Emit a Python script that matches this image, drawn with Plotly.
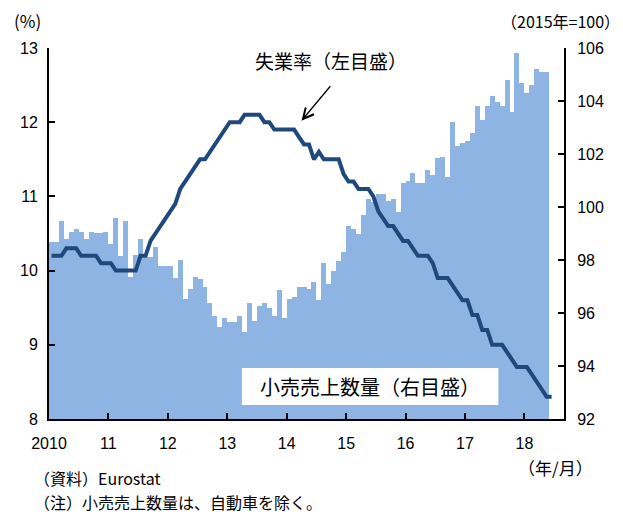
import numpy as np
import plotly.graph_objects as go

# monthly data, 2010/01 onwards
unemployment = [
    10.2, 10.2, 10.2, 10.3, 10.3, 10.3, 10.2, 10.2, 10.2, 10.2, 10.1, 10.1,
    10.1, 10.0, 10.0, 10.0, 10.0, 10.0, 10.2, 10.2, 10.4, 10.5, 10.6, 10.7,
    10.8, 10.9, 11.1, 11.2, 11.3, 11.4, 11.5, 11.5, 11.6, 11.7, 11.8, 11.9,
    12.0, 12.0, 12.0, 12.1, 12.1, 12.1, 12.1, 12.0, 12.0, 11.9, 11.9, 11.9,
    11.9, 11.9, 11.8, 11.7, 11.7, 11.5, 11.6, 11.5, 11.5, 11.5, 11.5, 11.3,
    11.2, 11.2, 11.1, 11.1, 11.1, 11.0, 10.8, 10.7, 10.6, 10.6, 10.5, 10.4,
    10.4, 10.3, 10.2, 10.2, 10.2, 10.1, 9.9, 9.9, 9.9, 9.8, 9.7, 9.6,
    9.6, 9.4, 9.4, 9.2, 9.2, 9.0, 9.0, 9.0, 8.9, 8.8, 8.7, 8.7,
    8.7, 8.6, 8.5, 8.4, 8.3, 8.3,
]

retail = [
    98.69, 98.69, 99.47, 98.78, 99.07, 99.16, 99.07, 98.78, 99.07, 99.01, 99.01, 99.07,
    98.59, 99.57, 98.15, 99.47, 97.37, 98.19, 98.78, 98.13, 98.13, 98.48, 97.77, 97.77,
    97.77, 97.31, 98.00, 96.52, 96.89, 97.37, 97.28, 96.97, 96.37, 95.89, 95.48, 95.80,
    95.67, 95.67, 95.89, 95.29, 96.37, 95.70, 96.26, 96.37, 96.18, 95.89, 96.87, 95.80,
    96.52, 96.60, 96.97, 96.97, 96.89, 97.18, 96.50, 97.89, 97.08, 97.60, 97.97, 98.30,
    99.28, 99.16, 99.00, 99.70, 100.29, 100.20, 100.49, 100.49, 100.22, 100.29, 99.82, 100.90,
    100.99, 101.30, 100.89, 100.89, 101.40, 101.20, 101.85, 101.88, 101.12, 103.20, 102.30, 102.40,
    102.50, 102.78, 103.80, 103.30, 103.80, 104.17, 103.97, 103.80, 104.79, 103.60, 105.80, 104.69,
    104.31, 104.60, 105.20, 105.08, 105.08,
]

year_labels = ["2010", "11", "12", "13", "14", "15", "16", "17", "18"]
n_months = 104  # axis runs to 2018/08

FONT = "Liberation Sans, Arial, Noto Sans CJK JP, sans-serif"
JFONT = "Noto Sans CJK JP, sans-serif"

# page body has an 8px margin, so the figure is 8px smaller than the window
W, H = 615, 507

fig = go.Figure()

fig.add_trace(go.Bar(
    x=np.arange(len(retail)),
    y=retail,
    width=1,
    marker=dict(color="#8DB4E2", line=dict(width=0)),
    yaxis="y",
    showlegend=False,
))

fig.add_trace(go.Scatter(
    x=np.arange(len(unemployment)),
    y=unemployment,
    mode="lines",
    line=dict(color="#1F497D", width=4),
    yaxis="y2",
    showlegend=False,
))

axis_style = dict(
    ticks="inside", ticklen=6, tickwidth=2, tickcolor="black",
    showline=True, linecolor="black", linewidth=2,
    showgrid=False, zeroline=False,
    tickfont=dict(size=16),
)

fig.update_layout(
    width=W, height=H,
    margin=dict(l=38, r=W - 38 - 518, t=40, b=H - 40 - 371),
    plot_bgcolor="white", paper_bgcolor="white",
    bargap=0,
    font=dict(family=FONT, size=16, color="black"),
    xaxis=dict(
        range=[-0.5, n_months - 0.5],
        tickvals=[-0.5 + 12 * k for k in range(len(year_labels))],
        ticktext=year_labels,
        ticklabelstandoff=9,
        **axis_style,
    ),
    # retail volume, right scale
    yaxis=dict(side="right", range=[92, 106], dtick=2,
               ticklabelstandoff=8, **axis_style),
    # unemployment rate, left scale
    yaxis2=dict(side="left", overlaying="y", range=[8, 13], dtick=1,
                ticklabelstandoff=6, **axis_style),
)

# label box for retail series
fig.add_shape(type="rect", xref="paper", yref="paper",
              x0=0.3745, x1=0.8726, y0=0.0377, y1=0.1375,
              fillcolor="white", line=dict(width=0), layer="above")


def note(text, x, y, xanchor="center", size=16):
    return dict(text=text, x=x, y=y, xref="paper", yref="paper",
                xanchor=xanchor, yanchor="middle", showarrow=False,
                font=dict(family=JFONT, size=size))


annotations = [
    note("小売売上数量（右目盛）", 0.6236, 0.0876, size=20),
    note("失業率（左目盛）", 0.548, 0.965, size=19),
    dict(text="", x=50.5, y=12.02, xref="x", yref="y2",
         showarrow=True, arrowhead=5, arrowsize=1.6, arrowwidth=1.3, arrowcolor="black",
         ax=30, ay=-36),
    note("(%)", -0.0425, 1.0728, size=17),
    note("（2015年=100）", 1.112, 1.0728, xanchor="right", size=16),
    note("（年/月）", 0.9826, -0.1294, size=17),
    note("（資料）Eurostat", -0.033, -0.159, xanchor="left", size=16),
    note("（注）小売売上数量は、自動車を除く。", -0.033, -0.2237, xanchor="left", size=16),
]
fig.update_layout(annotations=annotations)

fig.write_html("out.html")
